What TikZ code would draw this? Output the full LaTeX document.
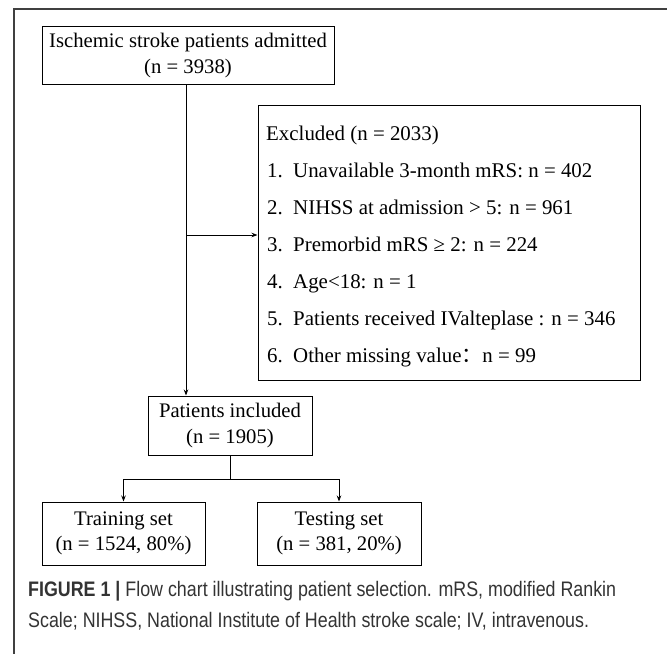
\documentclass[tikz,border=0pt]{standalone}
\usepackage{fontspec}
\setmainfont{Liberation Serif}
\setsansfont[FakeStretch=0.85]{Liberation Sans}
\newfontfamily\cjk{Noto Sans CJK SC}
\usetikzlibrary{arrows.meta}
\begin{document}
\begin{tikzpicture}[x=1pt,y=-1pt,
  box/.style={draw,line width=1pt,inner sep=0pt,align=center,font=\fontsize{20.7}{25.5}\selectfont},
  item/.style={anchor=base west,inner sep=0pt,font=\fontsize{20.9}{24}\selectfont},
  conn/.style={line width=0.9pt},
  arr/.style={conn,-{Stealth[length=6pt,width=4.5pt]}},
  captext/.style={anchor=base west,inner sep=0pt,text=black!80,font=\sffamily\fontsize{21}{31}\selectfont}]
\useasboundingbox (0,0) rectangle (667,654);
% outer frame
\coordinate (ftl) at (14,9);
\coordinate (ftr) at (667,9);
\coordinate (fbl) at (14,654);
\draw[line width=1.6pt,black!75] (ftr) -- (ftl) -- (fbl);
% boxes
\node[box,minimum width=292pt,minimum height=58.5pt] (adm) at (188,55.5) {Ischemic stroke patients admitted\\(n = 3938)};
\node[draw,line width=1pt,minimum width=382pt,minimum height=275pt,inner sep=0pt] (excl) at (449,242.5) {};
\node[box,minimum width=164pt,minimum height=59pt] (inc) at (230,425.5) {Patients included\\(n = 1905)};
\node[box,minimum width=163pt,minimum height=63pt] (train) at (123.5,533.5) {Training set\\(n = 1524, 80\%)};
\node[box,minimum width=164pt,minimum height=63pt] (test) at (339,533.5) {Testing set\\(n = 381, 20\%)};
% excluded text
\node[item] (e0) at (266,140) {Excluded (n = 2033)};
\node[item] (e1) at (267,177) {1.};
\node[item] (t1) at (293,177) {Unavailable 3-month mRS: n = 402};
\node[item] (e2) at (267,214) {2.};
\node[item] (t2) at (293,214) {NIHSS at admission > 5: n = 961};
\node[item] (e3) at (267,251) {3.};
\node[item] (t3) at (293,251) {Premorbid mRS ≥ 2: n = 224};
\node[item] (e4) at (267,288) {4.};
\node[item] (t4) at (293,288) {Age<18: n = 1};
\node[item] (e5) at (267,325) {5.};
\node[item] (t5) at (293,325) {Patients received IValteplase : n = 346};
\node[item] (e6) at (267,362) {6.};
\node[item] (t6) at (293,362) {Other missing value{\cjk ：}n = 99};
% connectors
\coordinate (top) at (186,84.75);
\draw[arr] (top) -- (top |- inc.north);
\coordinate (br) at (186,235);
\draw[arr] (br) -- (br -| excl.west);
\coordinate (split) at (230,479);
\draw[conn] (inc.south) -- (split);
\draw[arr] (split) -| (train.north);
\draw[arr] (split) -| (test.north);
% caption
\node[captext] (cap1) at (28,596) {\textbf{FIGURE 1 |} Flow chart illustrating patient selection. mRS, modified Rankin};
\node[captext] (cap2) at (28,627) {Scale; NIHSS, National Institute of Health stroke scale; IV, intravenous.};
\end{tikzpicture}
\end{document}
